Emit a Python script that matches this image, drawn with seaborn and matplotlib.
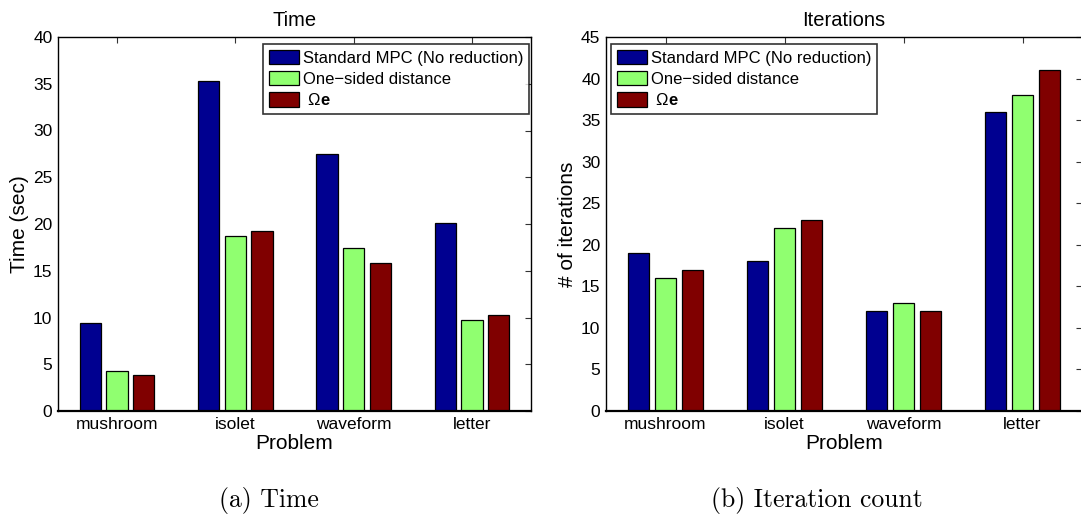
import matplotlib
matplotlib.use("Agg")
import matplotlib.pyplot as plt
import seaborn as sns
import pandas as pd

problems = ["mushroom", "isolet", "waveform", "letter"]
methods = ["Standard MPC (No reduction)", "One\u2212sided distance", r" $\Omega\mathbf{e}$"]
time_std = [9.4, 35.3, 27.5, 20.1]
time_one = [4.3, 18.7, 17.4, 9.7]
time_oe = [3.8, 19.2, 15.8, 10.3]
iter_std = [19, 18, 12, 36]
iter_one = [16, 22, 13, 38]
iter_oe = [17, 23, 12, 41]
colors = ["#000090", "#90FF70", "#800000"]

sns.set_style("white")
plt.rcParams['font.family'] = ['Liberation Sans', 'DejaVu Sans']
plt.rcParams['mathtext.fontset'] = 'custom'
plt.rcParams['mathtext.rm'] = 'Liberation Sans'
plt.rcParams['mathtext.it'] = 'Liberation Sans:italic'
plt.rcParams['mathtext.bf'] = 'Liberation Sans:bold'
plt.rcParams['text.color'] = 'black'
plt.rcParams['axes.labelcolor'] = 'black'
plt.rcParams['xtick.color'] = 'black'
plt.rcParams['ytick.color'] = 'black'


def make_df(a, b, c):
    rows = []
    for m, vals in zip(methods, [a, b, c]):
        for p, v in zip(problems, vals):
            rows.append({"Problem": p, "Method": m, "Value": v})
    return pd.DataFrame(rows)


fig = plt.figure(figsize=(10.81, 5.25), dpi=100)
W, H = 1081, 525
ax1 = fig.add_axes([58 / W, (H - 411) / H, 473 / W, 374 / H])
ax2 = fig.add_axes([606 / W, (H - 411) / H, 476 / W, 374 / H])

specs = [
    (ax1, make_df(time_std, time_one, time_oe), "Time", "Time (sec)", 40,
     "upper right", (1 - 2 / 473, 1 - 7 / 374)),
    (ax2, make_df(iter_std, iter_one, iter_oe), "Iterations", "# of iterations", 45,
     "upper left", (5 / 476, 1 - 7 / 374)),
]

for ax, df, title, ylabel, ymax, loc, anchor in specs:
    sns.barplot(data=df, x="Problem", y="Value", hue="Method", palette=colors,
                width=0.675, gap=0.2, edgecolor="black", linewidth=0.9,
                saturation=1, ax=ax, errorbar=None)
    ax.set_xlim(-0.5, 3.5)
    ax.set_ylim(0, ymax)
    ax.set_yticks(range(0, ymax + 1, 5))
    ax.set_title(title, fontsize=14.5, pad=8)
    ax.set_xlabel("Problem", fontsize=15, labelpad=2)
    ax.set_ylabel(ylabel, fontsize=15, labelpad=3)
    ax.tick_params(axis="both", direction="in", length=4, width=0.8,
                   top=True, right=True, pad=4, color="#333333")
    ax.tick_params(axis="y", labelsize=12.5)
    ax.tick_params(axis="x", labelsize=12.5)
    for s in ax.spines.values():
        s.set_visible(True)
        s.set_color("black")
        s.set_linewidth(1.0)
    ax.spines["bottom"].set_linewidth(1.6)
    leg = ax.legend(loc=loc, bbox_to_anchor=anchor, fontsize=12, frameon=True,
                    fancybox=False, borderpad=0.35, labelspacing=0.32,
                    handlelength=1.8, handleheight=0.95, handletextpad=0.25,
                    borderaxespad=0)
    leg.get_frame().set_edgecolor("black")
    leg.get_frame().set_linewidth(1.2)
    leg.set_title(None)

fig.text(269 / W, 1 - 500 / H, "(a) Time", ha="center", va="center",
         fontsize=18.5, family="cmr10")
fig.text(817 / W, 1 - 500 / H, "(b) Iteration count", ha="center", va="center",
         fontsize=18.5, family="cmr10")

fig.savefig("out.png", dpi=100)
